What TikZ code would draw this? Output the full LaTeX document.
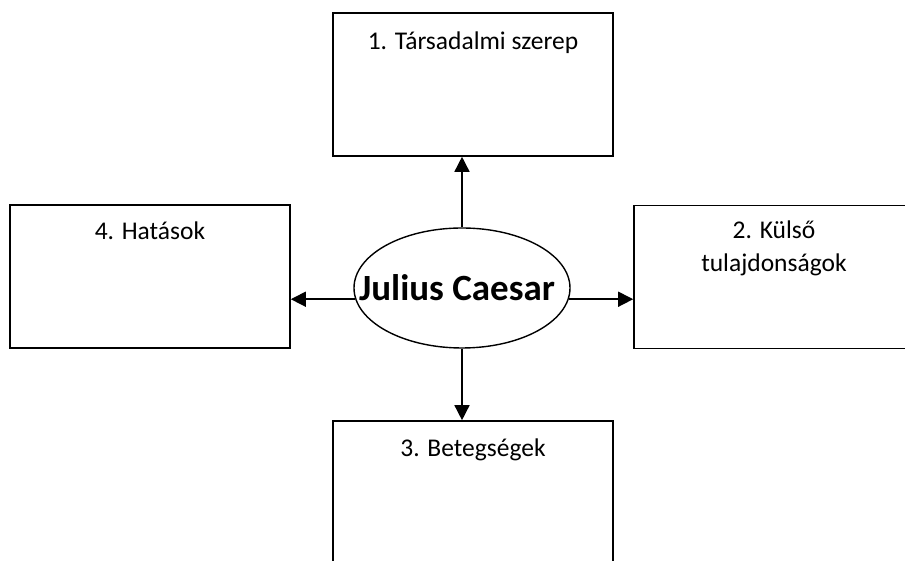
\documentclass[tikz,border=0pt]{standalone}
\usepackage{fontspec}
\setmainfont{Carlito}
\usetikzlibrary{arrows.meta,positioning,shapes.geometric}
\tikzset{
  topic/.style={
    draw,
    rectangle,
    minimum width=280pt,
    minimum height=143pt,
    inner sep=0pt,
    line width=1.6pt
  },
  hub/.style={
    draw,
    ellipse,
    minimum width=216pt,
    minimum height=120pt,
    inner sep=0pt,
    line width=1.4pt,
    fill=white
  },
  hubtext/.style={font=\fontsize{37}{44}\selectfont\bfseries, inner sep=0pt},
  topictext/.style={font=\fontsize{25.5}{33}\selectfont, inner sep=0pt, align=center},
  link/.style={-{Triangle[length=15pt,width=15pt]}, line width=1.5pt}
}

\begin{document}
\begin{tikzpicture}[x=1pt,y=1pt]
  \useasboundingbox (0,0) rectangle (905,561);

  \node[hub, label={[hubtext, xshift=-5pt]center:Julius Caesar}] (caesar) at (462,273) {};

  \node[topic] (szerep) at (473,476.5) {};
  \node[topic] (kulso) at (774,284) {};
  \node[topic] (betegseg) at (473,68.5) {};
  \node[topic] (hatas) at (150,284.5) {};

  \node[topictext, anchor=base] (szereptext) at ([yshift=-37pt]szerep.north) {1. Társadalmi szerep};
  \node[topictext, anchor=north] (kulsotext) at ([yshift=-16pt]kulso.north) {2. Külső\\tulajdonságok};
  \node[topictext, anchor=base] (betegsegtext) at ([yshift=-36pt]betegseg.north) {3. Betegségek};
  \node[topictext, anchor=base] (hatastext) at ([yshift=-35pt]hatas.north) {4. Hatások};

  \draw[link] (caesar.north) -- (caesar.north |- szerep.south);
  \draw[link] (caesar.south) -- (caesar.south |- betegseg.north);
  \draw[link] (caesar.-6) -- (caesar.-6 -| kulso.west);
  \draw[link] (caesar.186) -- (caesar.186 -| hatas.east);
\end{tikzpicture}
\end{document}
